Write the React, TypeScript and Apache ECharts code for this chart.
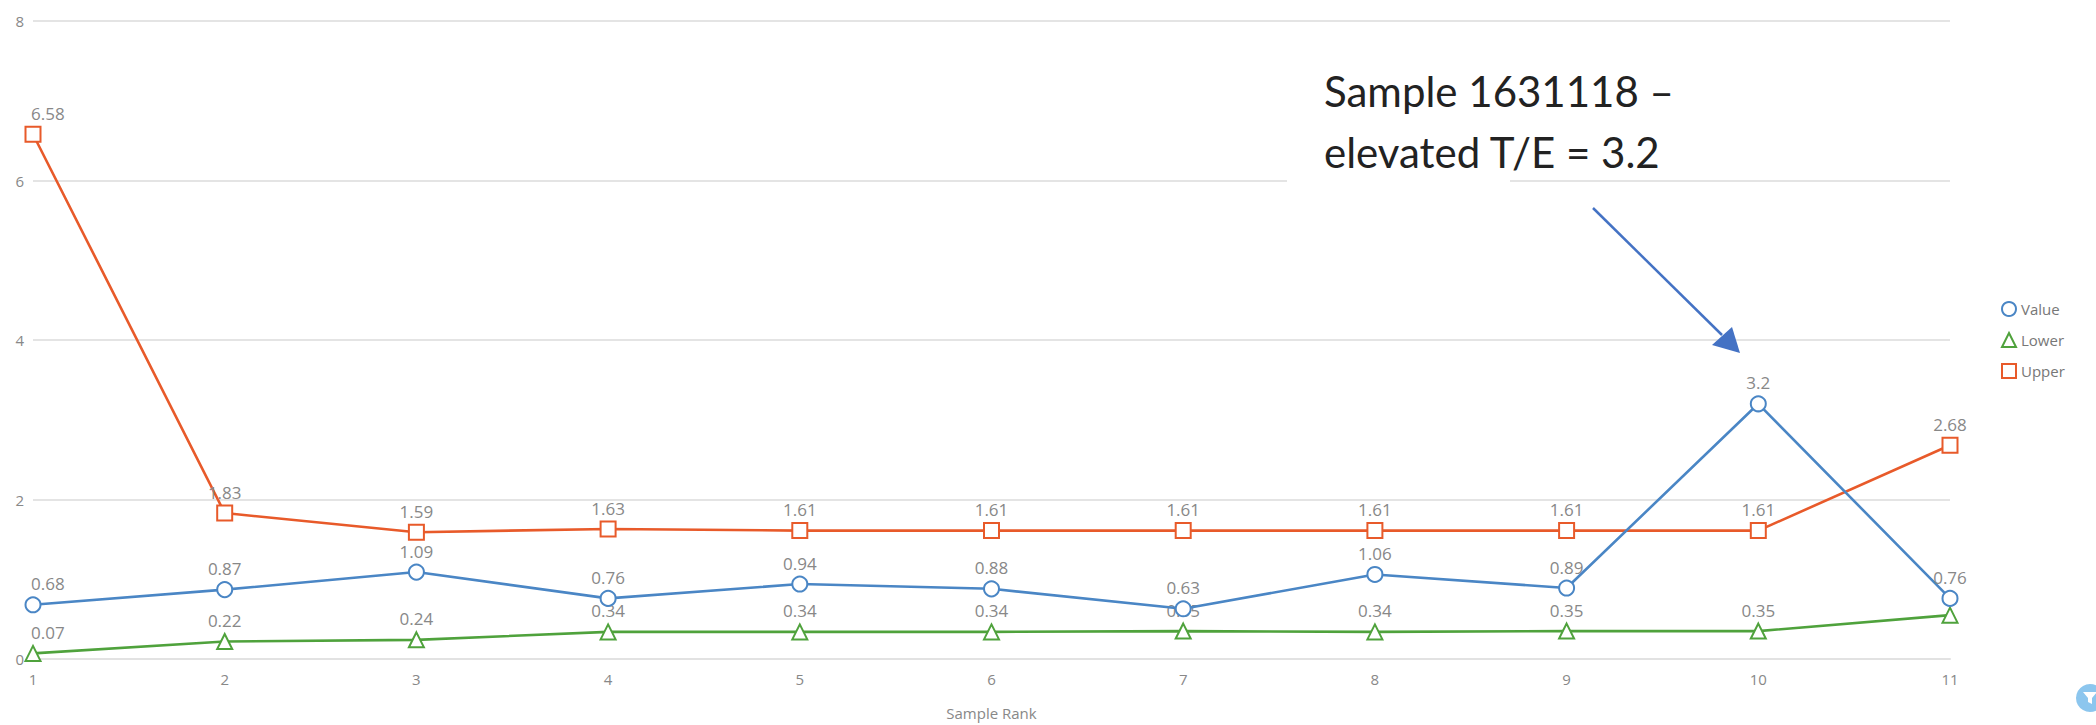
import React, { useEffect, useRef } from "react";
import * as echarts from "echarts";

const categories = ["1", "2", "3", "4", "5", "6", "7", "8", "9", "10", "11"];
const valueSeries = [0.68, 0.87, 1.09, 0.76, 0.94, 0.88, 0.63, 1.06, 0.89, 3.2, 0.76];
const lowerSeries = [0.07, 0.22, 0.24, 0.34, 0.34, 0.34, 0.35, 0.34, 0.35, 0.35, 0.55];
const upperSeries = [6.58, 1.83, 1.59, 1.63, 1.61, 1.61, 1.61, 1.61, 1.61, 1.61, 2.68];
const seriesNames = ["Value", "Lower", "Upper"];
const colors = ["#4a86c5", "#4fa23c", "#e85a2a"];
const symbols = ["emptyCircle", "emptyTriangle", "emptyRect"];
const annotationLines = ["Sample 1631118 \u2013", "elevated T/E = 3.2"];
const hiddenLabels: Record<string, number[]> = { Lower: [10] };

const labelFont = "'Open Sans', 'Noto Sans', sans-serif";

function buildData(name: string, values: number[]) {
  return values.map((v, i) => {
    const hide = (hiddenLabels[name] || []).includes(i);
    if (hide) return { value: v, label: { show: false } };
    if (i === 0) return { value: v, label: { align: "left", offset: [-2, 0] } };
    return v;
  });
}

export default function App() {
  const ref = useRef<HTMLDivElement>(null);
  useEffect(() => {
    if (!ref.current) return;
    const chart = echarts.init(ref.current, undefined, { renderer: "svg" });
    const allValues = [valueSeries, lowerSeries, upperSeries];
    chart.setOption({
      animation: false,
      backgroundColor: "#ffffff",
      color: colors,
      grid: { left: 33, right: 146, top: 21, bottom: 60, containLabel: false },
      legend: {
        orient: "vertical",
        left: 1996,
        top: 296,
        itemGap: 15,
        itemWidth: 14,
        itemHeight: 14,
        textStyle: { color: "#777", fontSize: 15, fontFamily: labelFont },
        itemStyle: { borderWidth: 3 },
        data: seriesNames.map((n, i) => ({ name: n, icon: symbols[i] })),
      },
      xAxis: {
        type: "category",
        data: categories,
        boundaryGap: false,
        name: "Sample Rank",
        nameLocation: "middle",
        nameGap: 46,
        nameTextStyle: { color: "#888", fontSize: 15, fontFamily: labelFont },
        axisLine: { show: true, lineStyle: { color: "#e2e2e2", width: 2 } },
        axisTick: { show: false },
        axisLabel: { color: "#888", fontSize: 15, margin: 12, fontFamily: labelFont },
        splitLine: { show: false },
      },
      yAxis: {
        type: "value",
        min: 0,
        max: 8,
        interval: 2,
        axisLine: { show: false },
        axisTick: { show: false },
        axisLabel: { color: "#888", fontSize: 15, margin: 9, fontFamily: labelFont },
        splitLine: { show: true, lineStyle: { color: "#e4e4e4", width: 2 } },
      },
      series: seriesNames.map((name, i) => ({
        name,
        type: "line",
        data: buildData(name, allValues[i]),
        symbol: symbols[i],
        symbolSize: 15,
        lineStyle: { width: 2.6, color: colors[i] },
        itemStyle: { color: colors[i], borderWidth: 3 },
        label: {
          show: true,
          position: "top",
          distance: 4,
          color: "#888",
          fontSize: 17,
          fontFamily: labelFont,
        },
        z: 2 + (2 - i),
      })),
      graphic: [
        { type: "rect", shape: { x: 1287, y: 40, width: 223, height: 150 }, style: { fill: "#ffffff" }, z: 50 },
        {
          type: "text",
          x: 1324,
          y: 91,
          style: { text: annotationLines[0], fontSize: 42, fontFamily: "Lato, 'Open Sans', sans-serif", fill: "#222", verticalAlign: "middle", align: "left" },
          z: 60,
        },
        {
          type: "text",
          x: 1324,
          y: 152,
          style: { text: annotationLines[1], fontSize: 42, fontFamily: "Lato, 'Open Sans', sans-serif", fill: "#222", verticalAlign: "middle", align: "left" },
          z: 60,
        },
        {
          type: "line",
          shape: { x1: 1593, y1: 208, x2: 1722, y2: 335 },
          style: { stroke: "#4472c4", lineWidth: 2.5 },
          z: 60,
        },
        {
          type: "polygon",
          shape: { points: [[1740, 353], [1712, 345], [1732, 327]] },
          style: { fill: "#4472c4" },
          z: 60,
        },
        { type: "circle", shape: { cx: 2090, cy: 698, r: 14 }, style: { fill: "#8cc6ee" }, z: 60 },
        {
          type: "polygon",
          shape: { points: [[2083, 692], [2097, 692], [2092, 698], [2092, 704], [2088, 702], [2088, 698]] },
          style: { fill: "#ffffff" },
          z: 61,
        },
      ],
    });
    return () => chart.dispose();
  }, []);
  return <div ref={ref} style={{ width: 2096, height: 725, position: "absolute", left: 0, top: 0 }} />;
}
